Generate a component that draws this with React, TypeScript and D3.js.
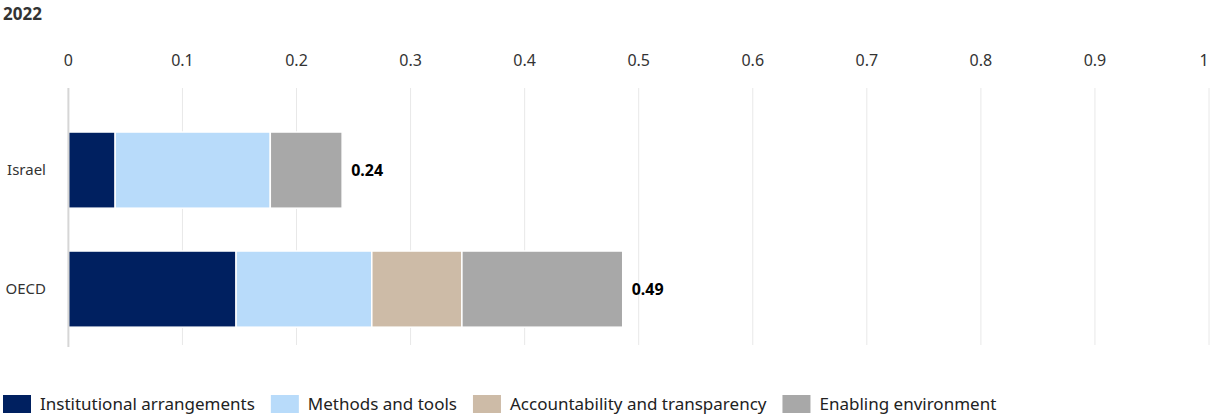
import React, { useEffect, useRef } from 'react';
import * as d3 from 'd3';

const title = '2022';
const countries = ['Israel', 'OECD'];
const seriesNames = [
  'Institutional arrangements',
  'Methods and tools',
  'Accountability and transparency',
  'Enabling environment'
];
const seriesColors = ['#002060', '#B8DBFA', '#CDBBA7', '#A8A8A8'];
const institutional = [0.041, 0.147];
const methods = [0.136, 0.119];
const accountability = [0, 0.079];
const enabling = [0.063, 0.141];
const totals = ['0.24', '0.49'];
const xTicks = [0, 0.1, 0.2, 0.3, 0.4, 0.5, 0.6, 0.7, 0.8, 0.9, 1];

const width = 1212;
const height = 417;
const font = "'Noto Sans', 'Open Sans', sans-serif";

function App() {
  const ref = useRef<SVGSVGElement>(null);

  useEffect(() => {
    document.body.style.margin = '0';
    const svg = d3.select(ref.current!);
    svg.selectAll('*').remove();

    const rows = countries.map((c, i) => ({
      country: c,
      values: [institutional[i], methods[i], accountability[i], enabling[i]],
      total: totals[i]
    }));

    const x = d3.scaleLinear().domain([0, 1]).range([68.4, 1209]);
    const y = d3
      .scaleBand()
      .domain(countries)
      .range([110.6, 348.6])
      .paddingInner(0.36)
      .paddingOuter(0.18);

    svg
      .append('text')
      .attr('x', 3)
      .attr('y', 20)
      .attr('font-family', font)
      .attr('font-size', 17)
      .attr('font-weight', 'bold')
      .attr('fill', '#333')
      .text(title);

    // grid + top tick labels
    svg
      .append('g')
      .selectAll('line')
      .data(xTicks.slice(1))
      .join('line')
      .attr('x1', d => x(d))
      .attr('x2', d => x(d))
      .attr('y1', 88)
      .attr('y2', 345)
      .attr('stroke', '#e8e8e8')
      .attr('stroke-width', 1);

    svg
      .append('g')
      .selectAll('text')
      .data(xTicks)
      .join('text')
      .attr('x', d => Math.min(x(d), width - 8))
      .attr('y', 66)
      .attr('text-anchor', 'middle')
      .attr('font-family', font)
      .attr('font-size', 16)
      .attr('fill', '#333')
      .text(d => d3.format('~g')(d));

    // bars
    const barG = svg.append('g');
    rows.forEach(row => {
      let acc = 0;
      row.values.forEach((v, k) => {
        if (v > 0) {
          barG
            .append('rect')
            .attr('x', x(acc))
            .attr('width', x(acc + v) - x(acc))
            .attr('y', y(row.country)!)
            .attr('height', y.bandwidth())
            .attr('fill', seriesColors[k])
            .attr('stroke', '#fff')
            .attr('stroke-width', 1.5);
        }
        acc += v;
      });
      svg
        .append('text')
        .attr('x', x(acc) + 9)
        .attr('y', y(row.country)! + y.bandwidth() / 2)
        .attr('dy', '0.35em')
        .attr('font-family', font)
        .attr('font-size', 16)
        .attr('font-weight', 'bold')
        .attr('fill', '#000')
        .text(row.total);
      svg
        .append('text')
        .attr('x', 46)
        .attr('y', y(row.country)! + y.bandwidth() / 2)
        .attr('dy', '0.35em')
        .attr('text-anchor', 'end')
        .attr('font-family', font)
        .attr('font-size', 15)
        .attr('fill', '#333')
        .text(row.country);
    });

    // axis line at zero
    svg
      .append('line')
      .attr('x1', x(0))
      .attr('x2', x(0))
      .attr('y1', 88)
      .attr('y2', 347)
      .attr('stroke', '#d6d6d6')
      .attr('stroke-width', 2);

    // legend
    const legend = svg.append('g');
    let lx = 3;
    seriesNames.forEach((name, k) => {
      legend
        .append('rect')
        .attr('x', lx)
        .attr('y', 395)
        .attr('width', 28)
        .attr('height', 18)
        .attr('fill', seriesColors[k]);
      const t = legend
        .append('text')
        .attr('x', lx + 37)
        .attr('y', 410)
        .attr('font-family', font)
        .attr('font-size', 17)
        .attr('fill', '#222')
        .text(name);
      const w = (t.node() as SVGTextElement).getComputedTextLength();
      lx += 37 + w + 16;
    });
  }, []);

  return <svg ref={ref} width={width} height={height} style={{ display: 'block' }} />;
}

export default App;
